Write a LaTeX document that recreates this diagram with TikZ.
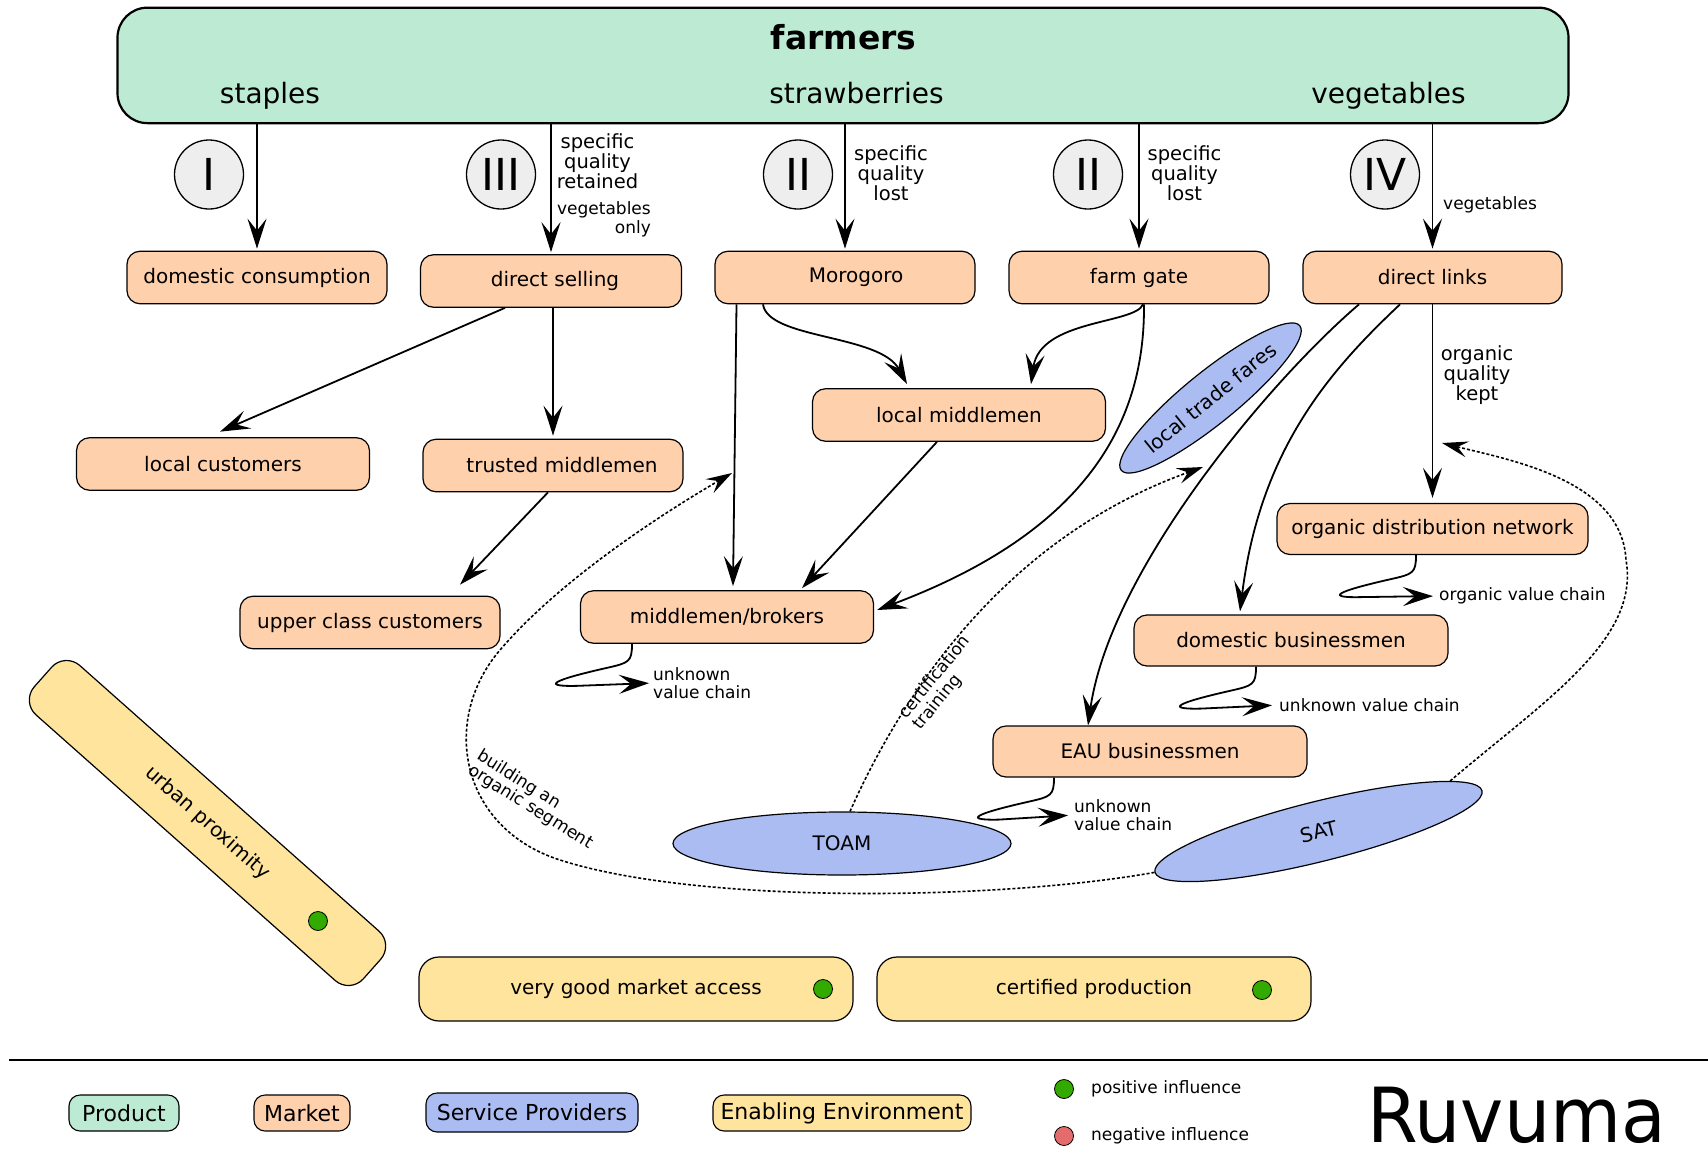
\documentclass[tikz,border=0pt]{standalone}
\usepackage{fontspec}
\setmainfont{DejaVu Sans}
\usetikzlibrary{shapes.geometric,arrows.meta,calc}

\definecolor{prodcol}{RGB}{189,234,211}
\definecolor{mktcol}{RGB}{255,208,172}
\definecolor{svccol}{RGB}{170,188,242}
\definecolor{envcol}{RGB}{255,228,157}
\definecolor{numcol}{RGB}{238,238,238}
\definecolor{posdot}{RGB}{51,170,0}
\definecolor{negdot}{RGB}{228,108,108}

\newcommand\fsz[2]{\fontsize{#1}{#2}\selectfont}

\begin{document}
\begin{tikzpicture}[x=1pt,y=-1pt,
  mkt/.style={draw, line width=1.2pt, fill=mktcol, rounded corners=13pt,
    minimum height=52.5pt, inner sep=0pt, font=\fsz{20}{24}},
  svc/.style={draw, line width=1.2pt, fill=svccol, ellipse, inner sep=0pt,
    font=\fsz{20}{24}},
  env/.style={draw, line width=1.2pt, fill=envcol, rounded corners=20pt,
    inner sep=0pt, font=\fsz{20}{24}},
  numeral/.style={circle, draw, line width=1.3pt, fill=numcol,
    minimum size=69pt, inner sep=0pt, font=\fsz{44}{48}},
  flow/.style={line width=1.8pt, -{Stealth[length=30pt,width=19pt,inset=12pt]}},
  infl/.style={line width=1.6pt, dash pattern=on 3pt off 2pt,
    -{Stealth[length=26pt,width=16pt,inset=10pt]}},
  infdot/.style={circle, draw, line width=0.8pt, minimum size=19pt, inner sep=0pt},
  lbl/.style={inner sep=0pt, font=\fsz{19.5}{20}},
  sm/.style={inner sep=0pt, font=\fsz{17}{17.5}},
  vchook/.style={to path={.. controls +(0,18) and +(22,-5) .. ++(-25,24)
    .. controls +(-40,9) and +(-45,1) .. ++(-30,18) -- (\tikztotarget)}},
  lgd/.style={draw, line width=1.1pt, rounded corners=11pt, minimum height=36pt,
    inner sep=0pt, font=\fsz{22}{24}},
]
% canvas
\fill[white] (0,0) rectangle (1708,1151);
\useasboundingbox (0,0) rectangle (1708,1151);

% product box
\node[draw, line width=2.2pt, fill=prodcol, rounded corners=30pt,
  minimum width=1451pt, minimum height=115.5pt, inner sep=0pt] (farmers) at (843,65.4) {};
\node[anchor=base, inner sep=0pt, font=\bfseries\fsz{33}{36}] (farmerstxt) at (843.5,49) {farmers};
\node[anchor=base, inner sep=0pt, font=\fsz{28}{32}] (staples) at (270,103) {staples};
\node[anchor=base, inner sep=0pt, font=\fsz{28}{32}] (straw) at (856.5,103) {strawberries};
\node[anchor=base, inner sep=0pt, font=\fsz{28}{32}] (veg) at (1388.5,103) {vegetables};

% service providers (drawn first so that the flows pass over them)
\node[svc, minimum width=228pt, minimum height=52pt, rotate=39] (ltf) at (1210.5,398) {local trade fares};
\node[svc, minimum width=338pt, minimum height=63pt] (toam) at (842,843.5) {TOAM};
\node[svc, minimum width=337pt, minimum height=60pt, rotate=14] (sat) at (1318.5,831.5) {SAT};

% markets, first row
\node[mkt, minimum width=260pt] (dc) at (257,277.5) {domestic consumption};
\node[mkt, minimum width=261pt] (ds) at (551,281) {\hspace*{8pt}direct selling};
\node[mkt, minimum width=260pt] (mor) at (845,277.5) {\hspace*{22pt}Morogoro};
\node[mkt, minimum width=260pt] (fg) at (1139,277.5) {farm gate};
\node[mkt, minimum width=259pt] (dl) at (1432.5,277.5) {direct links};

% markets, lower rows
\node[mkt, minimum width=293pt] (lm) at (959,415) {local middlemen};
\node[mkt, minimum width=293pt] (lc) at (223,464) {local customers};
\node[mkt, minimum width=260pt] (tm) at (553,465.5) {\hspace*{18pt}trusted middlemen};
\node[mkt, minimum width=260pt] (ucc) at (370,622.5) {upper class customers};
\node[mkt, minimum width=293pt] (mb) at (727,617) {middlemen/brokers};
\node[mkt, minimum width=311pt, minimum height=51pt] (odn) at (1432.5,529) {organic distribution network};
\node[mkt, minimum width=314pt, minimum height=51pt] (db) at (1291,640.5) {domestic businessmen};
\node[mkt, minimum width=314pt, minimum height=51pt] (eau) at (1150,751.5) {EAU businessmen};

% chain numerals
\node[numeral] (n1) at (209,174.5) {I};
\node[numeral] (n3) at (501,174.5) {III};
\node[numeral] (n2a) at (798,174.5) {II};
\node[numeral] (n2b) at (1088,174.5) {II};
\node[numeral] (n4) at (1385,174.5) {IV};

% from farmers to first markets
\draw[flow, shorten >=2pt] (farmers.south -| dc.north) -- (dc.north);
\draw[flow, shorten >=2pt] (farmers.south -| ds.north) -- (ds.north);
\draw[flow, shorten >=2pt] (farmers.south -| mor.north) -- (mor.north);
\draw[flow, shorten >=2pt] (farmers.south -| fg.north) -- (fg.north);
\draw[flow, shorten >=2pt] (farmers.south -| dl.north) -- (dl.north);

% arrow labels
\node[lbl, anchor=north, align=center] (q3) at (597.5,133.3) {specific\\quality\\retained};
\node[sm, anchor=north east, align=right, font=\fsz{17}{18.5}] (q3b) at (651,201.7) {vegetables\\only};
\node[lbl, anchor=north, align=center] (q2a) at (891,145) {specific\\quality\\lost};
\node[lbl, anchor=north, align=center] (q2b) at (1184.5,145) {specific\\quality\\lost};
\node[sm, anchor=north west] (q4) at (1443,196.7) {vegetables};
\node[lbl, anchor=north, align=center] (qorg) at (1477,345) {organic\\quality\\kept};

% market links
\draw[flow] ([xshift=-46pt]ds.south) -- ([xshift=-3pt,yshift=5.5pt]lc.north);
\draw[flow] ([xshift=2pt]ds.south) -- ([yshift=3pt]tm.north);
\draw[flow] ([xshift=-5pt]tm.south) -- ([xshift=90pt,yshift=11pt]ucc.north);
\draw[flow] ([xshift=-108.5pt]mor.south) -- ([xshift=6pt,yshift=4pt]mb.north);
\draw[flow] ([xshift=-82pt]mor.south) .. controls +(5,35) and +(-27,-50) .. ([xshift=-52pt,yshift=4pt]lm.north);
\draw[flow] ([xshift=4pt]fg.south) .. controls +(-8,20) and +(9,-65) .. ([xshift=72pt,yshift=4pt]lm.north);
\draw[flow] ([xshift=5pt]fg.south) .. controls +(1,115) and +(213,-80) .. ([xshift=3pt,yshift=7pt]mb.east);
\draw[flow] ([xshift=-22pt]lm.south) -- ([xshift=75pt,yshift=2pt]mb.north);
\draw[flow] ([xshift=-73.5pt]dl.south) .. controls +(-89,76) and +(22,-155) .. ([xshift=-62pt]eau.north);
\draw[flow] ([xshift=-32.5pt]dl.south) .. controls +(-70,66) and +(20,-162) .. ([xshift=-51pt,yshift=3pt]db.north);
\draw[flow] (dl.south) -- ([yshift=5pt]odn.north);

% value chains beyond the markets
\node[sm, anchor=west, align=left] (vc1) at (653,683) {unknown\\value chain};
\draw[flow, vchook, shorten >=4pt] ([xshift=-95pt]mb.south) to (vc1.west);
\node[sm, anchor=west] (vc2) at (1439,596) {organic value chain};
\draw[flow, vchook, shorten >=6pt] ([xshift=-16.5pt]odn.south) to (vc2.west);
\node[sm, anchor=west] (vc3) at (1279,705) {unknown value chain};
\draw[flow, vchook, shorten >=7pt] ([xshift=-35pt]db.south) to (vc3.west);
\node[sm, anchor=west, align=left] (vc4) at (1074,815) {unknown\\value chain};
\draw[flow, vchook, shorten >=6pt] ([xshift=-96pt]eau.south) to (vc4.west);

% service influences
\coordinate (orgtip) at (732,473);
\coordinate (ltftip) at (1203,467);
\coordinate (odntip) at (1442,443);
\draw[infl] ([xshift=8pt]toam.north) .. controls +(50,-112) and +(-203,73) .. (ltftip);
\node[sm, rotate=51, align=left, font=\fsz{17}{18}] (certlbl) at (942,683) {certification\\training};
\draw[infl] (sat.west) .. controls (1000,900) and (700,905) .. (560,860)
  .. controls (460,828) and (440,720) .. (500,650)
  .. controls (560,580) and (660,515) .. (orgtip);
\node[sm, rotate=-32, align=left, font=\fsz{17}{17}] (buildlbl) at (535,800) {building an\\organic segment};
\draw[infl] (sat.7) .. controls (1545,700) and (1640,640) .. (1626,560)
  .. controls (1622,480) and (1510,460) .. (odntip);

% enabling environment
\node[env, minimum width=440pt, minimum height=66pt, rotate=-41.6] (urb) at (207.5,823) {urban proximity};
\node[infdot, fill=posdot] (urbdot) at ($(urb.center)+(110.5,98)$) {};
\node[env, minimum width=434pt, minimum height=64pt] (vgma) at (636,989) {very good market access};
\node[infdot, fill=posdot] (vgmadot) at (823,989) {};
\node[env, minimum width=434pt, minimum height=64pt] (cp) at (1094,989) {certified production};
\node[infdot, fill=posdot] (cpdot) at (1262,990) {};

% legend
\draw[line width=2.5pt] (9,1060) -- (1708,1060);
\node[lgd, fill=prodcol, minimum width=110pt] (lgp) at (124,1113) {Product};
\node[lgd, fill=mktcol, minimum width=96pt] (lgm) at (302,1113) {Market};
\node[lgd, fill=svccol, minimum width=212pt, minimum height=39pt] (lgs) at (532,1112.5) {Service Providers};
\node[lgd, fill=envcol, minimum width=258pt] (lge) at (842,1113) {Enabling Environment};
\node[infdot, fill=posdot] (lpos) at (1064,1089) {};
\node[sm, anchor=west] (lpostxt) at (1091,1089) {positive influence};
\node[infdot, fill=negdot] (lneg) at (1064,1136) {};
\node[sm, anchor=west] (lnegtxt) at (1091,1136) {negative influence};
\node[anchor=base west, inner sep=0pt, font=\fsz{76}{80}, xscale=0.96] (region) at (1367,1142) {Ruvuma};
\end{tikzpicture}
\end{document}
